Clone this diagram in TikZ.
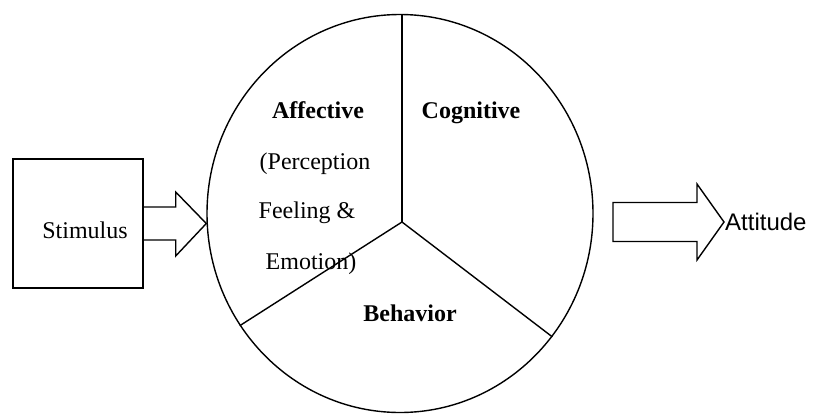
\documentclass[tikz,border=0pt]{standalone}
\usepackage{fontspec}
\setmainfont{Liberation Serif}
\newfontfamily\attfont{Liberation Sans}
\usepackage{tikz}
\usetikzlibrary{positioning, calc, shapes.geometric}
\tikzstyle{part}=[anchor=base, inner sep=0pt, font=\fontsize{24}{24}\selectfont\bfseries]
\tikzstyle{line}=[anchor=base, inner sep=0pt, font=\fontsize{24}{24}\selectfont]
\tikzstyle{blockarrow}=[draw, line join=miter]

\begin{document}
\begin{tikzpicture}[x=1pt, y=-1pt, line width=1.4pt]
	\useasboundingbox (0,0) rectangle (815,413);

	\node[ellipse, draw, minimum width=386pt, minimum height=398pt, inner sep=0pt] (mind) at (400,213.5) {};
	\node[draw, minimum width=130pt, minimum height=129pt, inner sep=0pt] (stim) at (78,223.5) {};
	\node[line] (stimtext) at (85,238) {Stimulus};
	\node[anchor=west, inner sep=0.5pt, font=\attfont\fontsize{24}{24}\selectfont] (att) at (724,222) {Attitude};

	\coordinate (hub) at (402,222);
	\coordinate (tip) at (mind.west |- stim.east);

	\node[part] (aff) at (318,118) {Affective};
	\node[line] (perc) at (315,169) {(Perception};
	\node[line] (feel) at (307,218) {Feeling \&};
	\node[line] (emo) at (311,269) {Emotion)};
	\node[part] (cog) at (471,118) {Cognitive};
	\node[part] (beh) at (410,321) {Behavior};

	\draw (hub) -- (hub |- mind.north);
	\draw (hub) -- (mind.-39.3);
	\draw (hub) -- (mind.-145.9);

	\draw[blockarrow] ($(stim.east)+(0,-16.5)$) -| ($(stim.east)+(32,-31.5)$) -- (tip)
		-- ($(stim.east)+(32,32.5)$) |- ($(stim.east)+(0,16.5)$);
	\draw[blockarrow] (att.west) -- ($(att.west)+(-27,-38)$) |- ($(att.west)+(-111,-19.5)$)
		|- ($(att.west)+(-27,19.5)$) -- ($(att.west)+(-27,38)$) -- cycle;


\end{tikzpicture}
\end{document}
